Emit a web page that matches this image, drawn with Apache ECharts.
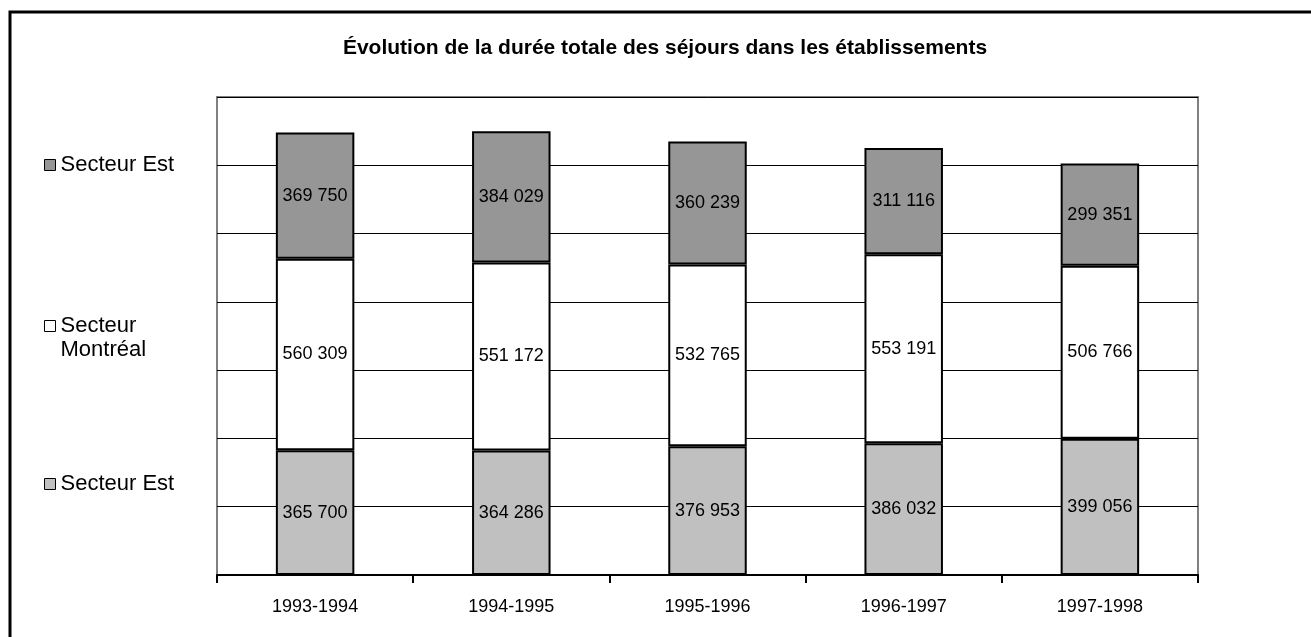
<!DOCTYPE html>
<html style="height: 100%">
<head>
  <meta charset="utf-8">
  <title>Évolution de la durée totale des séjours</title>
  <script src="https://cdn.jsdelivr.net/npm/echarts@6/dist/echarts.min.js"></script>
</head>
<body style="margin: 0; height: 100%; background: #fff">
  <div id="main" style="width: 1311px; height: 637px"></div>

  <script>
    const categories = ['1993-1994', '1994-1995', '1995-1996', '1996-1997', '1997-1998'];
    // du bas vers le haut de la pile
    const estBas = [365700, 364286, 376953, 386032, 399056];
    const montreal = [560309, 551172, 532765, 553191, 506766];
    const estHaut = [369750, 384029, 360239, 311116, 299351];

    const seriesNames = ['Secteur Est (bas)', 'Secteur Montréal', 'Secteur Est (haut)'];
    // ligne vide en tête : l'icône reste alignée sur « Secteur »
    const legendLabels = {
      'Secteur Est (bas)': 'Secteur Est',
      'Secteur Montréal': '\nSecteur\nMontréal',
      'Secteur Est (haut)': 'Secteur Est'
    };
    const colors = ['#c0c0c0', '#ffffff', '#969696'];

    const font = 'Liberation Sans, Arial, sans-serif';
    const fmt = v => String(v).replace(/\B(?=(\d{3})+(?!\d))/g, ' ');

    const chart = echarts.init(document.getElementById('main'));

    function legendAt(name, top) {
      return {
        data: [name],
        orient: 'vertical',
        left: 44,
        top: top,
        padding: 0,
        icon: 'rect',
        itemWidth: 11,
        itemHeight: 11,
        itemStyle: { borderColor: '#000', borderWidth: 1 },
        selectedMode: false,
        formatter: n => legendLabels[n],
        textStyle: { fontFamily: font, fontSize: 22, lineHeight: 24, color: '#000' }
      };
    }

    chart.setOption({
      animation: false,
      title: {
        text: 'Évolution de la durée totale des séjours dans les établissements',
        left: 660,
        top: 33,
        textAlign: 'center',
        textStyle: { fontFamily: font, fontSize: 21, fontWeight: 'bold', color: '#000' }
      },
      legend: [
        legendAt(seriesNames[2], 153),
        legendAt(seriesNames[1], 290),
        legendAt(seriesNames[0], 472)
      ],
      graphic: [{
        type: 'rect',
        shape: { x: 10, y: 12, width: 2000, height: 2000 },
        style: { fill: 'none', stroke: '#000', lineWidth: 3 }
      }],
      grid: {
        left: 217,
        right: 113,
        top: 97,
        bottom: 62,
        show: true,
        borderColor: '#808080',
        borderWidth: 2
      },
      xAxis: {
        type: 'category',
        data: categories,
        axisLine: { lineStyle: { color: '#000', width: 2 } },
        axisTick: { show: true, length: 8, lineStyle: { color: '#000', width: 2 } },
        axisLabel: { fontFamily: font, fontSize: 18, color: '#000', margin: 23 }
      },
      yAxis: {
        type: 'value',
        min: 0,
        max: 1400000,
        interval: 200000,
        axisLine: { show: false },
        axisTick: { show: false },
        axisLabel: { show: false },
        splitLine: { lineStyle: { color: '#000', width: 1 } }
      },
      series: [estBas, montreal, estHaut].map((d, i) => ({
        name: seriesNames[i],
        type: 'bar',
        stack: 'total',
        barWidth: '40%',
        data: d,
        itemStyle: { color: colors[i], borderColor: '#000', borderWidth: 2 },
        label: {
          show: true,
          position: 'inside',
          formatter: p => fmt(p.value),
          fontFamily: font,
          fontSize: 18,
          color: '#000'
        }
      }))
    });
  </script>
</body>
</html>
